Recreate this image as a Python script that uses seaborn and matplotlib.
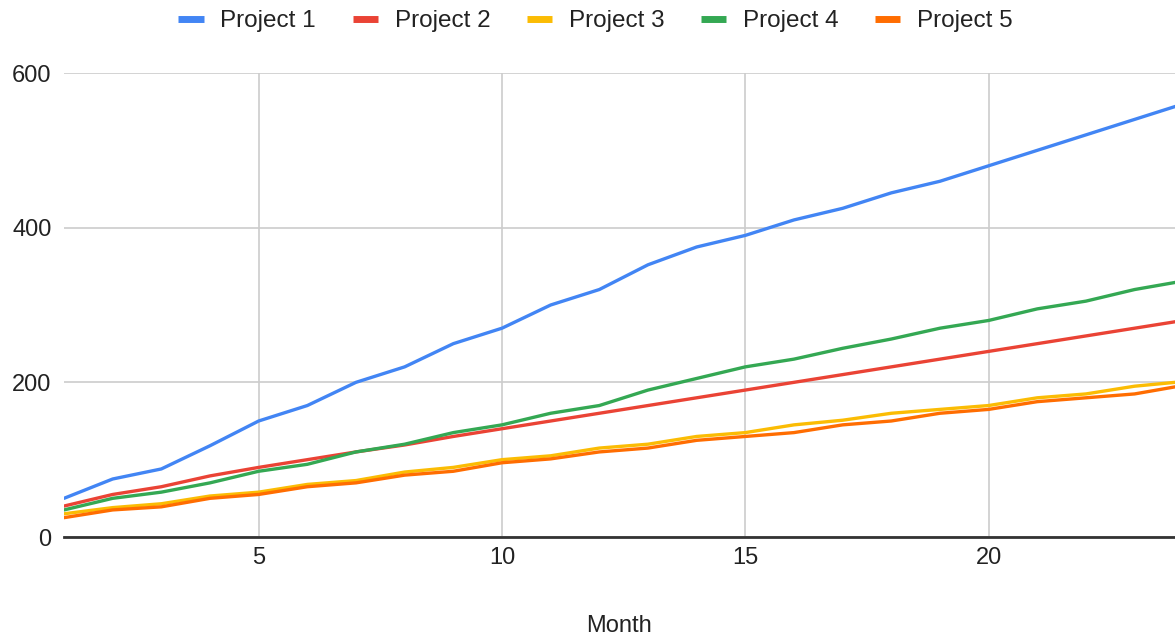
import numpy as np
import pandas as pd
import matplotlib
matplotlib.use("Agg")
import matplotlib.pyplot as plt
import seaborn as sns
from matplotlib.lines import Line2D

months = list(range(1, 25))
project_1 = [50, 75, 88, 118, 150, 170, 200, 220, 250, 270, 300, 320, 352, 375, 390, 410, 425, 445, 460, 480, 500, 520, 540, 560]
project_2 = [40, 55, 65, 79, 90, 100, 110, 119, 130, 140, 150, 160, 170, 180, 190, 200, 210, 220, 230, 240, 250, 260, 270, 280]
project_3 = [30, 38, 43, 53, 58, 68, 73, 84, 90, 100, 105, 115, 120, 130, 135, 145, 151, 160, 165, 170, 180, 185, 195, 201]
project_4 = [35, 50, 58, 70, 85, 94, 110, 120, 135, 145, 160, 170, 190, 205, 220, 230, 244, 256, 270, 280, 295, 305, 320, 331]
project_5 = [25, 35, 39, 50, 55, 65, 70, 80, 85, 96, 101, 110, 115, 125, 130, 135, 145, 150, 160, 165, 175, 180, 185, 196]
series_names = ["Project 1", "Project 2", "Project 3", "Project 4", "Project 5"]
colors = ["#4285F4", "#EA4335", "#FBBC04", "#34A853", "#FF6D01"]

frames = []
for name, vals in zip(series_names, [project_1, project_2, project_3, project_4, project_5]):
    frames.append(pd.DataFrame({"Month": months, "Value": vals, "Series": name}))
df = pd.concat(frames, ignore_index=True)

sns.set_theme(style="white")
plt.rcParams["font.family"] = ["Liberation Sans", "DejaVu Sans"]

fig = plt.figure(figsize=(11.75, 6.37), dpi=100)
ax = fig.add_axes([64 / 1175, (637 - 537) / 637, 1 - 64 / 1175, (537 - 73) / 637])

sns.lineplot(data=df, x="Month", y="Value", hue="Series", palette=colors,
             linewidth=2.4, ax=ax, legend=False, zorder=3)

ax.set_xlim(1, 23.83)
ax.set_ylim(0, 600)
ax.set_xticks([5, 10, 15, 20])
ax.set_yticks([0, 200, 400, 600])
ax.grid(True, color="#cccccc", linewidth=1.2, zorder=0)
ax.set_axisbelow(True)
for s in ["top", "right", "left"]:
    ax.spines[s].set_visible(False)
ax.spines["bottom"].set_color("#333333")
ax.spines["bottom"].set_linewidth(2)
ax.spines["bottom"].set_zorder(4)
ax.tick_params(axis="both", length=0, labelsize=17, colors="#222222")
ax.tick_params(axis="x", pad=7)
ax.tick_params(axis="y", pad=9)
ax.set_xlabel("Month", fontsize=17, color="#222222", labelpad=33)
ax.set_ylabel("")

handles = [Line2D([0], [0], color=c, linewidth=5, solid_capstyle="butt") for c in colors]
fig.legend(handles, series_names, loc="center", bbox_to_anchor=(0.5 + 8 / 1175, 1 - 21 / 637),
           ncol=5, frameon=False, fontsize=17.5, handlelength=1.05, handletextpad=0.68,
           columnspacing=1.5, labelcolor="#222222")

fig.savefig("out.png", dpi=100)
